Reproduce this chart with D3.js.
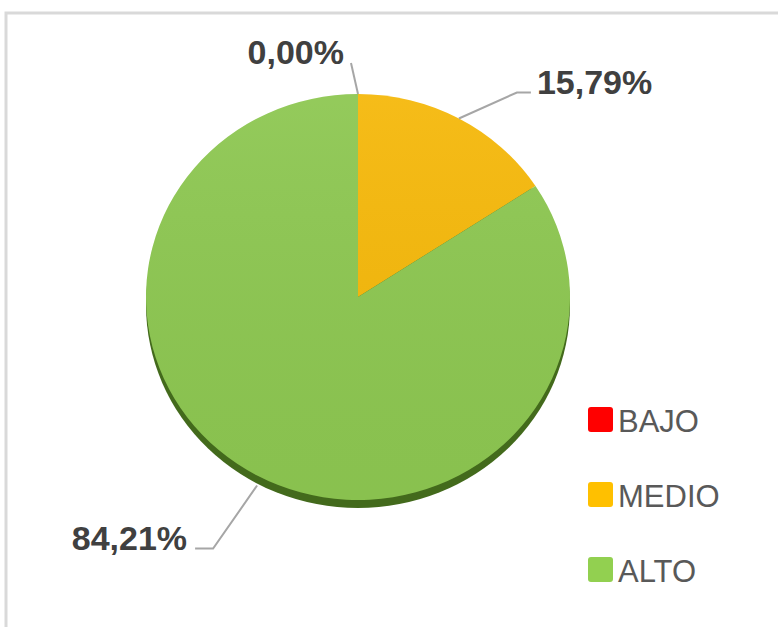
<!DOCTYPE html>
<html>
<head>
<meta charset="utf-8">
<script src="https://cdn.jsdelivr.net/npm/d3@7/dist/d3.min.js"></script>
<style>
  html, body { margin: 0; padding: 0; background: #ffffff; }
  svg { display: block; }
</style>
</head>
<body>
<svg id="chart" width="778" height="627"></svg>
<script>
// Niveles y porcentajes
const categories = ["BAJO", "MEDIO", "ALTO"];
const values = [0.00, 15.79, 84.21];
const colors = ["#FF0000", "#FFC000", "#92D050"];
const faceColors = ["#F20000", "#F5B80A", "#8DC751"];

const W = 778, H = 627;
const svg = d3.select("#chart");

// Marco del gráfico
svg.append("rect")
  .attr("x", 6).attr("y", 13)
  .attr("width", W + 20).attr("height", H + 20)
  .attr("fill", "#ffffff")
  .attr("stroke", "#d9d9d9")
  .attr("stroke-width", 3);

// Geometría del pastel (ligeramente inclinado)
const cx = 358, cy = 297, rx = 212, ry = 203, depth = 8;
const sy = ry / rx;

const pie = d3.pie().sort(null).value(d => d)(values);
const arc = d3.arc().innerRadius(0).outerRadius(rx);

const defs = svg.append("defs");
const shade = defs.append("linearGradient")
  .attr("id", "shade").attr("x1", 0).attr("y1", 0).attr("x2", 0).attr("y2", 1);
shade.append("stop").attr("offset", "0%").attr("stop-color", "#ffffff").attr("stop-opacity", 0.06);
shade.append("stop").attr("offset", "100%").attr("stop-color", "#000000").attr("stop-opacity", 0.03);

// Canto inferior
svg.append("g").attr("transform", `translate(${cx},${cy + depth}) scale(1,${sy})`)
  .append("circle").attr("r", rx).attr("fill", "#436A1C");

// Cara superior
const face = svg.append("g").attr("transform", `translate(${cx},${cy}) scale(1,${sy})`);
face.selectAll("path.slice")
  .data(pie)
  .join("path")
  .attr("class", "slice")
  .attr("d", arc)
  .attr("fill", (d, i) => faceColors[i]);
face.append("circle").attr("r", rx).attr("fill", "url(#shade)");

// Etiquetas de datos con líneas guía
const fmt = v => d3.format(".2f")(v).replace(".", ",") + "%";
const guides = [
  { dx: -7, dy: -31, hx: 0, anchor: "end", tx: -7, ty: 1 },
  { dx: 58, dy: -26, hx: 14, anchor: "start", tx: 6, ty: 2 },
  { dx: -44, dy: 63, hx: -18, anchor: "end", tx: -8, ty: 1 }
];

const labels = svg.append("g");
pie.forEach((d, i) => {
  const a = (d.startAngle + d.endAngle) / 2;
  const px = cx + rx * Math.sin(a);
  let py = cy - ry * Math.cos(a);
  if (Math.cos(a) < 0) py += depth + 2;
  const g = guides[i];
  const ex = px + g.dx, ey = py + g.dy;
  const hx = ex + g.hx;
  labels.append("path")
    .attr("d", `M${px},${py}L${ex},${ey}L${hx},${ey}`)
    .attr("fill", "none")
    .attr("stroke", "#a6a6a6")
    .attr("stroke-width", 2);
  labels.append("text")
    .attr("x", hx + g.tx)
    .attr("y", ey + g.ty)
    .attr("text-anchor", g.anchor)
    .attr("font-family", "Liberation Sans, Arial, sans-serif")
    .attr("font-weight", "bold")
    .attr("font-size", 34)
    .attr("fill", "#404040")
    .text(fmt(d.data));
});

// Leyenda
const legendY = d3.scalePoint().domain(categories).range([420, 570]);
const legend = svg.append("g");
const item = legend.selectAll("g.item").data(categories).join("g")
  .attr("class", "item")
  .attr("transform", d => `translate(588,${legendY(d)})`);
item.append("rect")
  .attr("x", 0).attr("y", -13)
  .attr("width", 25).attr("height", 25)
  .attr("rx", 3)
  .attr("fill", (d, i) => colors[i]);
item.append("text")
  .attr("x", 30).attr("y", 12)
  .attr("font-family", "Liberation Sans, Arial, sans-serif")
  .attr("font-size", 31)
  .attr("fill", "#595959")
  .text(d => d);
</script>
</body>
</html>
